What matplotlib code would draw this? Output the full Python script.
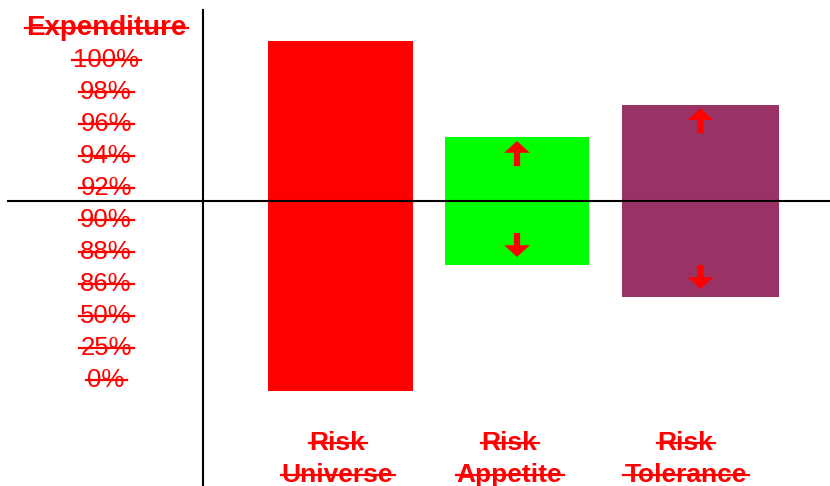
import matplotlib
matplotlib.use("Agg")
import matplotlib.pyplot as plt
from matplotlib.lines import Line2D

# ---- data ----
categories = ["Risk\nUniverse", "Risk\nAppetite", "Risk\nTolerance"]
bar_top = [5.0, 2.0, 3.0]
bar_bottom = [-5.94, -2.0, -3.0]
bar_colors = ["#FF0000", "#00FF00", "#993366"]
axis_title = "Expenditure"
tick_labels = ["100%", "98%", "96%", "94%", "92%", "90%", "88%", "86%", "50%", "25%", "0%"]
tick_values = [4.5, 3.5, 2.5, 1.5, 0.5, -0.5, -1.5, -2.5, -3.5, -4.5, -5.5]
# arrows: (category index, tail value, tip value)
arrows = [(1, 1.09, 1.875), (1, -1.0, -1.75), (2, 2.125, 2.9), (2, -2.0, -2.75)]

# ---- layout ----
W, H, DPI = 830, 486, 100
PX = 32.0            # pixels per value unit
ZERO_Y = 201         # pixel row of the zero line
bar_x = [340.5, 517, 700.5]
bar_w = [145, 144, 157]
label_x = [337.5, 509.5, 685.5]
RED = "#FF0000"

fig = plt.figure(figsize=(W / DPI, H / DPI), dpi=DPI)
ax = fig.add_axes([0, 0, 1, 1])
ax.set_xlim(0, W)
ax.set_ylim(-(H - ZERO_Y) / PX, ZERO_Y / PX)
ax.axis("off")

heights = [t - b for t, b in zip(bar_top, bar_bottom)]
ax.bar(bar_x, heights, bottom=bar_bottom, width=bar_w, color=bar_colors, zorder=1)

ax.axhline(0, xmin=8 / W, xmax=1, color="black", lw=1.5, zorder=3)
ax.axvline(203, ymin=0, ymax=(H - 10) / H, color="black", lw=1.5, zorder=3)

for ci, tail, tip in arrows:
    ax.annotate("", xy=(bar_x[ci], tip), xytext=(bar_x[ci], tail),
                arrowprops=dict(arrowstyle="simple,head_length=0.85,head_width=1.85,tail_width=0.45",
                                color=RED, mutation_scale=10, shrinkA=0, shrinkB=0, lw=0),
                zorder=4)

texts = []  # (text artist, fontsize)
fam = ["Liberation Sans", "DejaVu Sans"]


def px_to_val(py):
    return (ZERO_Y - py) / PX


t = ax.text(106, px_to_val(35), axis_title, ha="center", va="baseline",
            fontsize=20, fontweight="bold", color=RED, family=fam)
texts.append((t, 20))
for lab, v in zip(tick_labels, tick_values):
    base = ZERO_Y - PX * v + 10
    t = ax.text(106, px_to_val(base), lab, ha="center", va="baseline",
                fontsize=18.5, color=RED, family=fam)
    texts.append((t, 18.5))
for cat, lx in zip(categories, label_x):
    for i, line in enumerate(cat.split("\n")):
        base = 450 + 32 * i
        t = ax.text(lx, px_to_val(base), line, ha="center", va="baseline",
                    fontsize=19, fontweight="bold", color=RED, family=fam)
        texts.append((t, 19))

# strikethrough lines
fig.canvas.draw()
r = fig.canvas.get_renderer()
for t, fs in texts:
    bb = t.get_window_extent(renderer=r)
    _, by = ax.transData.transform((0, t.get_position()[1]))
    y = by + 0.26 * fs * DPI / 72
    fig.add_artist(Line2D([bb.x0 - 1, bb.x1 + 2], [y, y], transform=None,
                          color=RED, lw=1.6, zorder=5))

fig.savefig("out.png", dpi=DPI)
